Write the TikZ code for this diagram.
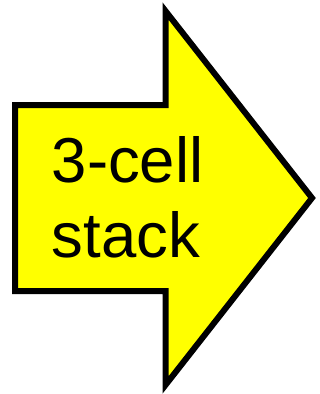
\documentclass[tikz,border=0pt]{standalone}
\usepackage{fontspec}
\setmainfont{Liberation Sans}
\usetikzlibrary{positioning}
\definecolor{arrowyellow}{RGB}{255,255,0}

\begin{document}
\begin{tikzpicture}[
  x=1pt, y=-1pt,
  bigarrow/.style={draw=black, line width=6pt, fill=arrowyellow, line join=miter},
  label/.style={font=\fontsize{63.5}{75}\selectfont, align=left, inner sep=0pt},
]
\useasboundingbox (0,0) rectangle (320,394);

% arrow body
\draw[bigarrow] (15,105) -- (165.5,105) -- (165.5,11) -- (312,198)
  -- (165.5,385) -- (165.5,291) -- (15,291) -- cycle;

% caption
\node[label, anchor=base west] (cap) at (51.5,257) {3-cell\\stack};

\end{tikzpicture}
\end{document}
